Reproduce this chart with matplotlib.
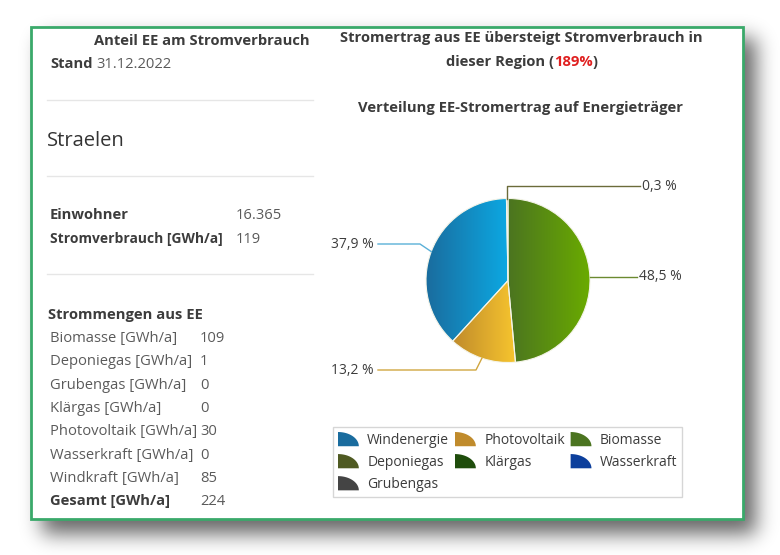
import numpy as np
import matplotlib
matplotlib.use("Agg")
from matplotlib import pyplot as plt
from matplotlib.patches import Rectangle, Patch, Polygon
from matplotlib.colors import LinearSegmentedColormap
from matplotlib.legend_handler import HandlerPatch

plt.rcParams['font.family'] = ['Open Sans', 'DejaVu Sans']

# --- data ---
ort = "Straelen"
stand = "31.12.2022"
einwohner = "16.365"
stromverbrauch = "119"
anteil = "189%"

quellen = ['Biomasse', 'Deponiegas', 'Grubengas', 'Klärgas', 'Photovoltaik', 'Wasserkraft', 'Windkraft']
mengen = [109, 1, 0, 0, 30, 0, 85]
gesamt = 224

# pie slices, clockwise from 12 o'clock
pie_namen = ['Biomasse', 'Photovoltaik', 'Windenergie', 'Deponiegas']
pie_prozent = [48.5, 13.2, 37.9, 0.3]
pie_labels = ['48,5 %', '13,2 %', '37,9 %', '0,3 %']

legende_namen = ['Windenergie', 'Photovoltaik', 'Biomasse', 'Deponiegas', 'Klärgas', 'Wasserkraft', 'Grubengas']
farben = {
    'Windenergie': ('#1a6c9e', '#0ca8e2'),
    'Photovoltaik': ('#c08b2c', '#f7c52e'),
    'Biomasse': ('#4b7420', '#6aab00'),
    'Deponiegas': ('#4f5a22', '#6e7a3a'),
    'Klärgas': ('#1f4d0c', '#2f6a14'),
    'Wasserkraft': ('#0c3f9c', '#1a5fcf'),
    'Grubengas': ('#444444', '#666666'),
}
linien_farben = {'Windenergie': '#5ab0d8', 'Photovoltaik': '#d0a640',
                 'Biomasse': '#6b8a30', 'Deponiegas': '#6b6b3a'}

W, H = 780, 555
fig = plt.figure(figsize=(W / 100, H / 100), dpi=100)
fig.patch.set_facecolor('white')

bg = fig.add_axes([0, 0, 1, 1])
bg.axis('off')

# shadow (blurred offset box)
maske = np.zeros((H, W))
maske[38:534, 42:756] = 1.0
k = np.exp(-0.5 * (np.arange(-30, 31) / 10.0) ** 2)
k /= k.sum()
maske = np.apply_along_axis(lambda r: np.convolve(r, k, mode='same'), 1, maske)
maske = np.apply_along_axis(lambda c: np.convolve(c, k, mode='same'), 0, maske)
schatten = np.zeros((H, W, 4))
schatten[..., 3] = maske * 0.6
bg.imshow(schatten, extent=(0, W, H, 0), zorder=0, interpolation='bilinear')
bg.set_xlim(0, W)
bg.set_ylim(H, 0)

bg.add_patch(Rectangle((31, 27), 712, 492, facecolor='white', edgecolor='#3aa96a', lw=2, zorder=1))

dunkel = '#3c3c3c'
grau = '#5a5a5a'
fs = 10.6

# left panel
bg.text(310, 45, "Anteil EE am Stromverbrauch", ha='right', va='baseline', fontsize=fs,
        fontweight='bold', color=dunkel, zorder=2)
bg.text(50, 68, "Stand", ha='left', va='baseline', fontsize=fs, fontweight='bold', color=dunkel, zorder=2)
bg.text(96, 68, stand, ha='left', va='baseline', fontsize=fs, color=grau, zorder=2)
for y in (100, 176, 274):
    bg.plot([47, 313], [y, y], color='#e6e6e6', lw=1, zorder=2)
bg.text(47, 146, ort, ha='left', va='baseline', fontsize=14.5, color='#333333', zorder=2)
bg.text(50, 219, "Einwohner", ha='left', va='baseline', fontsize=fs, fontweight='bold', color=dunkel, zorder=2)
bg.text(236, 219, einwohner, ha='left', va='baseline', fontsize=fs, color=grau, zorder=2)
bg.text(50, 243, "Stromverbrauch [GWh/a]", ha='left', va='baseline', fontsize=10.0, fontweight='bold',
        color=dunkel, zorder=2)
bg.text(236, 243, stromverbrauch, ha='left', va='baseline', fontsize=fs, color=grau, zorder=2)
bg.text(48, 319, "Strommengen aus EE", ha='left', va='baseline', fontsize=fs, fontweight='bold',
        color=dunkel, zorder=2)
y = 342
for name, wert in zip(quellen, mengen):
    bg.text(50, y, name + " [GWh/a]", ha='left', va='baseline', fontsize=fs, color=grau, zorder=2)
    bg.text(200, y, str(wert), ha='left', va='baseline', fontsize=fs, color=grau, zorder=2)
    y += 23.3
bg.text(50, 505, "Gesamt [GWh/a]", ha='left', va='baseline', fontsize=fs, fontweight='bold', color=dunkel, zorder=2)
bg.text(200, 505, str(gesamt), ha='left', va='baseline', fontsize=fs, color=grau, zorder=2)

# right panel titles
bg.text(521, 42, "Stromertrag aus EE übersteigt Stromverbrauch in", ha='center', va='baseline',
        fontsize=fs, fontweight='bold', color=dunkel, zorder=2)
t1 = bg.text(446, 66, "dieser Region (", ha='left', va='baseline', fontsize=fs, fontweight='bold',
             color=dunkel, zorder=2)
t2 = bg.annotate(anteil, xycoords=t1, xy=(1, 0), va='bottom', fontsize=fs, fontweight='bold',
                 color='#e02020', zorder=2)
bg.annotate(")", xycoords=t2, xy=(1, 0), va='bottom', fontsize=fs, fontweight='bold', color=dunkel, zorder=2)
bg.text(521, 112, "Verteilung EE-Stromertrag auf Energieträger", ha='center', va='baseline',
        fontsize=fs, fontweight='bold', color=dunkel, zorder=2)

# pie
cx, cy, r = 508, 280.5, 82
ax = fig.add_axes([320 / W, 1 - 390 / H, 380 / W, 220 / H])
ax.patch.set_alpha(0)
wedges, _ = ax.pie(pie_prozent, startangle=90, counterclock=False, radius=1,
                   colors=[farben[n][1] for n in pie_namen],
                   wedgeprops=dict(edgecolor='#f4f4e8', linewidth=0.8))
for w, n in zip(wedges, pie_namen):
    bb = w.get_path().get_extents()
    cmap = LinearSegmentedColormap.from_list(n, farben[n])
    grad = np.linspace(0, 1, 256).reshape(1, -1)
    im = ax.imshow(grad, extent=(bb.x0, bb.x1, bb.y0, bb.y1), cmap=cmap, aspect='auto', zorder=1)
    im.set_clip_path(w)
    w.set_facecolor('none')
    w.set_zorder(2)

ax.set_xlim((320 - cx) / r, (700 - cx) / r)
ax.set_ylim(-(390 - cy) / r, (cy - 170) / r)
ax.set_aspect('auto')
ax.axis('off')


# leader lines
def px(x):
    return (x - cx) / r


def py(y):
    return (cy - y) / r


for w, n, lab in zip(wedges, pie_namen, pie_labels):
    mid = np.deg2rad((w.theta1 + w.theta2) / 2)
    x0, y0 = np.cos(mid), np.sin(mid)
    c = linien_farben[n]
    if n == 'Biomasse':
        ax.plot([x0, px(637)], [y0, y0], color=c, lw=1)
        ax.text(px(639), y0, lab, ha='left', va='center', fontsize=10, color=dunkel)
    elif n == 'Deponiegas':
        ax.plot([x0, x0, px(640)], [y0, py(186), py(186)], color=c, lw=1)
        ax.text(px(642), py(186), lab, ha='left', va='center', fontsize=10, color=dunkel)
    elif n == 'Windenergie':
        ax.plot([x0, px(420), px(378)], [y0, py(244), py(244)], color=c, lw=1)
        ax.text(px(374), py(244), lab, ha='right', va='center', fontsize=10, color=dunkel)
    else:
        ax.plot([x0, px(476), px(378)], [y0, py(370), py(370)], color=c, lw=1)
        ax.text(px(374), py(370), lab, ha='right', va='center', fontsize=10, color=dunkel)


# legend with quarter-circle handles
def viertel(legend, orig_handle, xdescent, ydescent, width, height, fontsize):
    t = np.linspace(0, np.pi / 2, 20)
    x0, y0 = -xdescent, -ydescent
    pts = [(x0, y0)] + [(x0 + width * np.cos(a), y0 + height * np.sin(a)) for a in t]
    return Polygon(pts, closed=True)


reihenfolge = [0, 3, 6, 1, 4, 2, 5]
handles = [Patch(facecolor=farben[legende_namen[i]][0], edgecolor='none') for i in reihenfolge]
labels = [legende_namen[i] for i in reihenfolge]
leg = fig.legend(handles, labels, loc='upper left', bbox_to_anchor=(333 / W, 1 - 427 / H),
                 ncol=3, fontsize=10, frameon=True, fancybox=False, edgecolor='#cccccc',
                 handlelength=1.5, handleheight=1.2, handletextpad=0.6, columnspacing=0.42,
                 labelspacing=0.45, borderpad=0.36, borderaxespad=0,
                 handler_map={Patch: HandlerPatch(patch_func=viertel)})
leg.get_frame().set_linewidth(1)
for t in leg.get_texts():
    t.set_color(dunkel)

fig.savefig("out.png", dpi=100)
